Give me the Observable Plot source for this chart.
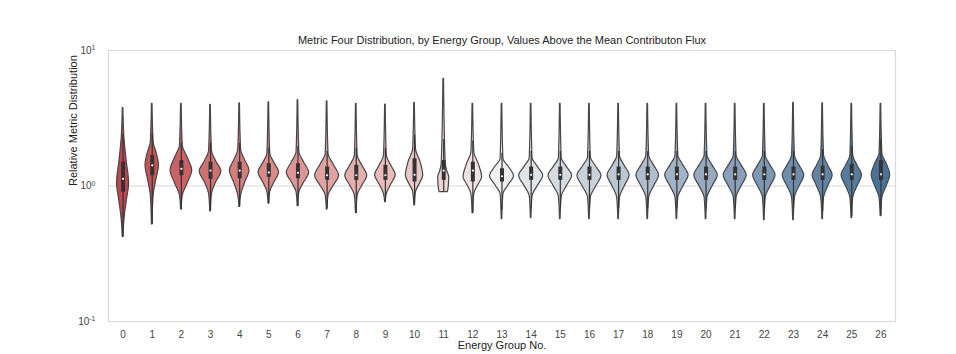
<!DOCTYPE html>
<html>
<head>
<meta charset="utf-8">
<script src="https://cdn.jsdelivr.net/npm/d3@7"></script>
<script src="https://cdn.jsdelivr.net/npm/@observablehq/plot@0.6"></script>
<style>
  html, body { margin: 0; padding: 0; background: #fff; }
  #wrap { position: relative; width: 956px; height: 354px; }
  #rule { position: absolute; left: 10px; top: 15px; width: 933px; height: 2px; background: #d4d4d4; }
  #chart { position: absolute; left: 0; top: 0; }
</style>
</head>
<body>
<div id="wrap"><div id="rule"></div><div id="chart"></div></div>
<script>
// ---- data ----
const groups   = [0,1,2,3,4,5,6,7,8,9,10,11,12,13,14,15,16,17,18,19,20,21,22,23,24,25,26];
const xLabels  = ["0","1","2","3","4","5","6","7","8","9","10","11","12","13","14","15","16","17","18","19","20","21","22","23","24","25","26"];
const yTicks   = [0.1, 1, 10];
const yExp     = ["-1", "0", "1"];
const hiVal    = [3.75,4.04,4.04,3.97,4.08,4.15,4.30,4.22,4.04,3.99,4.10,6.18,4.04,4.04,4.04,4.04,4.04,4.04,4.04,4.04,4.04,4.04,4.04,4.10,4.08,4.04,4.04];
const neckHi   = [2.23,2.10,1.99,1.83,1.85,1.73,1.78,1.73,1.68,1.68,1.88,1.46,1.78,1.59,1.61,1.61,1.63,1.66,1.68,1.68,1.68,1.68,1.68,1.68,1.68,1.68,1.73];
const peakVal  = [1.05,1.42,1.30,1.28,1.30,1.26,1.25,1.19,1.19,1.20,1.19,1.16,1.16,1.18,1.19,1.19,1.19,1.20,1.20,1.20,1.20,1.20,1.20,1.20,1.20,1.20,1.20];
const neckLo   = [0.57,0.85,0.85,0.87,0.85,0.90,0.90,0.85,0.85,0.87,0.90,0.91,0.87,0.87,0.84,0.83,0.82,0.82,0.82,0.82,0.82,0.82,0.82,0.82,0.82,0.82,0.82];
const loVal    = [0.42,0.52,0.67,0.65,0.70,0.74,0.71,0.67,0.63,0.76,0.72,0.90,0.63,0.57,0.58,0.57,0.57,0.57,0.57,0.57,0.57,0.57,0.56,0.56,0.57,0.58,0.60];
// half widths in pixels
const peakW    = [6.0,6.7,10.8,10.8,9.8,10.3,11.2,12.0,11.0,10.3,8.7,5.5,9.3,12.0,12.0,11.8,12.0,11.0,11.3,11.7,11.7,11.5,11.2,10.8,10.0,10.2,9.3];
const neckLoW  = [1.4,1.4,1.4,1.4,1.4,1.4,1.4,1.4,1.4,1.4,1.4,4.3,1.4,1.4,1.4,1.4,1.4,1.4,1.4,1.4,1.4,1.4,1.4,1.4,1.4,1.4,1.4];
const neckHiW  = [1.4,1.4,1.4,1.4,1.4,1.4,1.4,1.4,1.4,1.4,1.4,2.0,1.4,1.4,1.4,1.4,1.4,1.4,1.4,1.4,1.4,1.4,1.4,1.4,1.4,1.4,1.4];
const loW      = [0.3,0.3,0.3,0.3,0.3,0.3,0.3,0.3,0.3,0.3,0.3,4.0,0.3,0.3,0.3,0.3,0.3,0.3,0.3,0.3,0.3,0.3,0.3,0.3,0.3,0.3,0.3];
const midLoF   = [0.62,0.6,0.6,0.5,0.55,0.55,0.55,0.55,0.55,0.55,0.6,0.95,0.55,0.55,0.55,0.55,0.55,0.55,0.55,0.55,0.55,0.55,0.55,0.55,0.55,0.55,0.6];
const midHiF   = [0.6,0.7,0.6,0.5,0.55,0.55,0.55,0.55,0.55,0.55,0.7,0.6,0.65,0.6,0.55,0.55,0.55,0.55,0.55,0.55,0.55,0.55,0.55,0.55,0.55,0.55,0.65];
const q1Val    = [0.90,1.19,1.19,1.12,1.13,1.16,1.13,1.10,1.10,1.10,1.07,1.10,1.07,1.07,1.10,1.10,1.10,1.10,1.10,1.10,1.10,1.10,1.10,1.10,1.10,1.10,1.10];
const medVal   = [1.13,1.42,1.34,1.30,1.30,1.26,1.25,1.20,1.20,1.20,1.21,1.30,1.30,1.18,1.21,1.21,1.21,1.22,1.22,1.22,1.22,1.22,1.22,1.22,1.22,1.22,1.22];
const q3Val    = [1.50,1.68,1.54,1.50,1.50,1.46,1.46,1.38,1.42,1.42,1.59,1.54,1.50,1.34,1.38,1.38,1.38,1.38,1.38,1.38,1.38,1.38,1.38,1.38,1.40,1.44,1.54];
const colorStops = ["#c1464f", "#efefef", "#4a7299"];

// ---- layout ----
const W = 956, H = 354, mL = 108, mR = 61, mT = 50, mB = 33;
const pxPerUnit = (W - mL - mR) / groups.length;
const color = d3.scaleLinear().domain([0, 13, 26]).range(colorStops).interpolate(d3.interpolateLab);

const outline = [];
groups.forEach((g, i) => {
  const midLo = Math.sqrt(neckLo[i] * peakVal[i]);
  const midHi = Math.sqrt(neckHi[i] * peakVal[i]);
  const pts = [
    [loVal[i], loW[i]],
    [neckLo[i], neckLoW[i]],
    [midLo, midLoF[i] * peakW[i]],
    [peakVal[i], peakW[i]],
    [midHi, midHiF[i] * peakW[i]],
    [neckHi[i], neckHiW[i]],
    [hiVal[i], 0.3]
  ];
  pts.forEach(([v, hw]) => outline.push({g, v, hw}));
});

const stats = groups.map((g, i) => {
  const iqr = q3Val[i] - q1Val[i];
  return {
    g, q1: q1Val[i], med: medVal[i], q3: q3Val[i],
    wLo: Math.max(loVal[i], q1Val[i] - 1.5 * iqr),
    wHi: Math.min(hiVal[i], q3Val[i] + 1.5 * iqr)
  };
});

const chart = Plot.plot({
  width: W, height: H,
  marginLeft: mL, marginRight: mR, marginTop: mT, marginBottom: mB,
  style: {fontFamily: "'Liberation Sans', Arial, sans-serif", fontSize: "10px", color: "#333", background: "white"},
  x: {type: "linear", domain: [-0.5, 26.5]},
  y: {type: "log", domain: [0.1, 10]},
  marks: [
    Plot.ruleY([1], {stroke: "#e4e4e4", strokeWidth: 1.6}),
    Plot.frame({stroke: "#dadada", strokeWidth: 1.2}),
    Plot.areaX(outline, {
      y: "v",
      x1: d => d.g - d.hw / pxPerUnit,
      x2: d => d.g + d.hw / pxPerUnit,
      z: "g",
      fill: d => color(d.g),
      stroke: "#474747",
      strokeWidth: 1.2,
      curve: "monotone-y"
    }),
    Plot.ruleX(stats, {x: "g", y1: "wLo", y2: "wHi", stroke: "#333", strokeWidth: 1.2}),
    Plot.ruleX(stats, {x: "g", y1: "q1", y2: "q3", stroke: "#333", strokeWidth: 4}),
    Plot.dot(stats, {x: "g", y: "med", r: 1.1, fill: "white", stroke: null}),
    Plot.axisX(groups, {tickSize: 0, tickPadding: 9, tickFormat: d => xLabels[d], label: null, fontSize: 10, fill: "#444"}),
    Plot.axisY(yTicks, {tickSize: 0, tickPadding: 13, tickFormat: (d, i) => "10|" + yExp[yTicks.indexOf(d)], label: null, fontSize: 10, fill: "#444"}),
    Plot.text(["Metric Four Distribution, by Energy Group, Values Above the Mean Contributon Flux"], {
      frameAnchor: "top", dy: -10, fontSize: 11, fill: "#222", lineAnchor: "middle"
    }),
    Plot.text(["Energy Group No."], {
      frameAnchor: "bottom", dy: 24, fontSize: 11, fill: "#222", lineAnchor: "middle"
    }),
    Plot.text(["Relative Metric Distribution"], {
      frameAnchor: "left", dx: -35, rotate: -90, fontSize: 11, fill: "#222", lineAnchor: "middle"
    })
  ]
});

// turn "10|e" tick labels into 10 with a superscript exponent
d3.select(chart).selectAll("text").each(function () {
  const t = this.textContent;
  if (/^10\|/.test(t)) {
    const exp = t.split("|")[1];
    const sel = d3.select(this);
    sel.text("10");
    sel.append("tspan").attr("dy", "-0.5em").attr("font-size", "7px").text(exp);
  }
});
document.getElementById("chart").appendChild(chart);
</script>
</body>
</html>
